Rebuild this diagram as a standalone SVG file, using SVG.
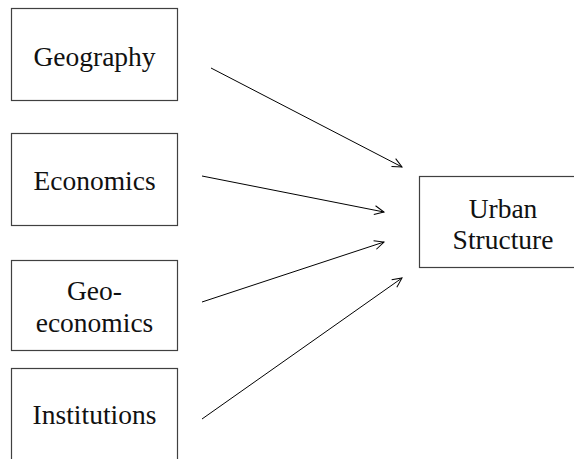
<svg xmlns="http://www.w3.org/2000/svg" width="574" height="459" viewBox="0 0 574 459">
  <style>
    .box { fill: #ffffff; stroke: #404040; stroke-width: 1.2; }
    .label { font-family: "Liberation Serif", "Times New Roman", serif; font-size: 27.5px; fill: #111111; text-anchor: middle; }
    .edge { fill: none; stroke: #000000; stroke-width: 1; marker-end: url(#open-arrow); }
  </style>
  <defs>
    <marker id="open-arrow" markerUnits="userSpaceOnUse" markerWidth="14" markerHeight="14" refX="12" refY="7" orient="auto" overflow="visible">
      <path d="M2.5,2.5 L12,7 L2.5,11.5" fill="none" stroke="#000000" stroke-width="1"/>
    </marker>
  </defs>
  <rect width="574" height="459" fill="#ffffff"/>

  <g id="geography">
    <rect class="box" x="11.5" y="8.5" width="166" height="92"/>
    <text class="label" x="94.5" y="66">Geography</text>
  </g>

  <g id="economics">
    <rect class="box" x="11.5" y="133.5" width="166" height="92"/>
    <text class="label" x="94.5" y="190">Economics</text>
  </g>

  <g id="geo-economics">
    <rect class="box" x="11.5" y="260.5" width="166" height="90"/>
    <text class="label" x="94.5" y="300">Geo-</text>
    <text class="label" x="94.5" y="332">economics</text>
  </g>

  <g id="institutions">
    <rect class="box" x="11.5" y="368.5" width="166" height="110"/>
    <text class="label" x="94.5" y="424">Institutions</text>
  </g>

  <g id="urban-structure">
    <rect class="box" x="419.5" y="176.5" width="170" height="91"/>
    <text class="label" x="503" y="218">Urban</text>
    <text class="label" x="503" y="249">Structure</text>
  </g>

  <g id="connectors">
    <line class="edge" x1="211" y1="68" x2="402" y2="167"/>
    <line class="edge" x1="202" y1="176" x2="384" y2="212"/>
    <line class="edge" x1="202" y1="302" x2="384" y2="242"/>
    <line class="edge" x1="202" y1="419" x2="402" y2="278"/>
  </g>
</svg>
